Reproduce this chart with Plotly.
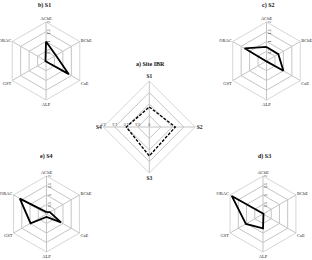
import plotly.graph_objects as go

axes6 = ["AChE", "BChE", "CaE", "ALP", "GST", "ORAC"]
s1 = [1.0, 0.58, 1.35, 0.03, 0.03, 0.03]
s2 = [0.72, 0.7, 1.0, 0.02, 0.02, 1.3]
s3 = [0.03, 0.03, 0.03, 0.75, 1.04, 1.9]
s4 = [0.1, 0.2, 0.88, 0.15, 0.97, 1.62]

ibr_axes = ["S1", "S2", "S3", "S4"]
ibr = [0.87, 1.13, 1.26, 1.0]

titles = ["b) S1", "c) S2", "a) Site IBR", "e) S4", "d) S3"]

W, H = 312, 260

def dom(cx, cy, r):
    return dict(x=[(cx - r) / W, (cx + r) / W], y=[1 - (cy + r) / H, 1 - (cy - r) / H])

fig = go.Figure()

panels = [
    ("polar", s1, axes6, dom(46, 61, 39)),
    ("polar2", s2, axes6, dom(266.5, 61, 39)),
    ("polar3", ibr, ibr_axes, dom(149.3, 127, 46)),
    ("polar4", s4, axes6, dom(46.5, 214, 38)),
    ("polar5", s3, axes6, dom(263, 214, 38)),
]

grid = "#c4c4c4"
for name, vals, cats, d in panels:
    is_ibr = name == "polar3"
    fig.add_trace(go.Scatterpolar(
        r=vals + vals[:1], theta=cats + cats[:1], mode="lines",
        line=dict(color="black", width=1.8 if not is_ibr else 1.4,
                  dash="solid" if not is_ibr else "3px,1.5px"),
        subplot=name, showlegend=False, hoverinfo="skip"))
    fig.update_layout(**{name: dict(
        domain=d,
        bgcolor="white",
        gridshape="linear",
        radialaxis=dict(
            range=[0, 2], tickvals=[0, 0.5, 1, 1.5, 2] if is_ibr else [0.5, 1, 1.5, 2],
            ticktext=["0", "0.5", "1.0", "1.5", "2.0"] if is_ibr else ["0.5", "1", "1.5", "2"],
            angle=180 if is_ibr else 90, tickangle=0,
            showline=False, ticks="", gridcolor=grid, gridwidth=0.7,
            tickfont=dict(size=3.5, color="#444", family="Liberation Sans")),
        angularaxis=dict(
            categoryorder="array", categoryarray=cats,
            direction="clockwise", rotation=90,
            showline=True, linecolor=grid, linewidth=0.7,
            gridcolor=grid, gridwidth=0.7, ticks="",
            tickfont=dict(size=5.5 if is_ibr else 4.5, color="#222",
                          family="Liberation Serif", weight="bold" if is_ibr else "normal")),
    )})

title_pos = [(45, 5), (268, 5), (150, 64), (46, 156), (264, 156)]
for t, (x, y) in zip(titles, title_pos):
    fig.add_annotation(text="<b>" + t + "</b>", x=x / W, y=1 - y / H, xref="paper", yref="paper",
                       showarrow=False, xanchor="center", yanchor="middle",
                       font=dict(size=6, color="#111", family="Liberation Serif"))

fig.update_layout(width=W, height=H, margin=dict(l=0, r=0, t=0, b=0),
                  paper_bgcolor="white", plot_bgcolor="white")
fig.write_html("out.html")
